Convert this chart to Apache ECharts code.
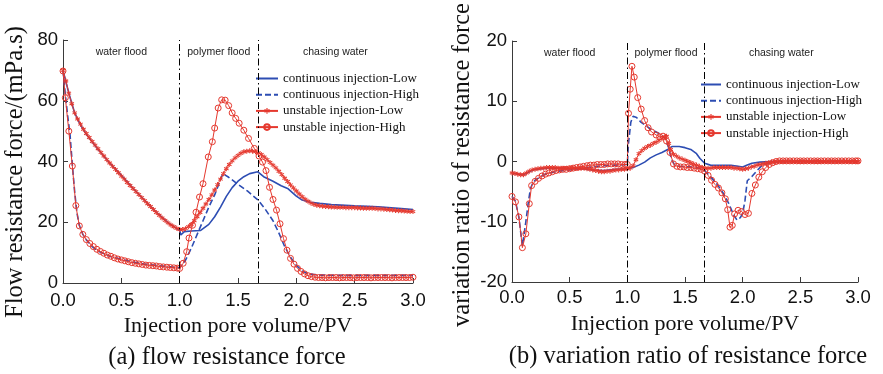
<!DOCTYPE html>
<html>
<head>
<meta charset="utf-8">
<script src="https://cdn.jsdelivr.net/npm/echarts@6/dist/echarts.min.js"></script>
<style>
  html, body { margin: 0; padding: 0; background: #fff; }
  #chart { width: 883px; height: 374px; }
</style>
</head>
<body>
<div id="chart"></div>
<script>
// ---- data: [injection pore volume (PV), value] ----
const seriesNames = [
  'continuous injection-Low',
  'continuous injection-High',
  'unstable injection-Low',
  'unstable injection-High'
];
const stageNames = ['water flood', 'polymer flood', 'chasing water'];
const stageBounds = [0, 1.0, 1.67, 3.0];
const xTicks = { min: 0, max: 3, interval: 0.5 };
const yTicksA = { min: 0, max: 80, interval: 20 };
const yTicksB = { min: -20, max: 20, interval: 10 };

// (a) flow resistance force, mPa.s
const forceContLow = [[0,70],[0.02,67],[0.05,62.5],[0.1,56],[0.15,52],[0.2,49],[0.3,44],[0.4,39.5],[0.5,35.5],[0.6,31.2],[0.7,27.2],[0.8,23.3],[0.9,19.9],[0.98,17.8],[1.0,17.3],[1.01,15.8],[1.04,16.9],[1.1,17.1],[1.18,17.3],[1.25,19.3],[1.3,21.8],[1.35,25],[1.4,28.5],[1.45,31.4],[1.5,33.5],[1.55,35],[1.6,36],[1.67,36.6],[1.72,35],[1.8,33.5],[1.87,32],[1.93,31],[2.0,28.6],[2.05,27.3],[2.12,26.6],[2.2,26.2],[2.3,25.8],[2.5,25.4],[2.7,25.1],[2.9,24.5],[3.0,24.2]];
const forceContHigh = [[0,70],[0.02,62],[0.04,55],[0.06,49],[0.08,39],[0.1,30],[0.12,23],[0.14,19],[0.17,16],[0.2,14.2],[0.25,12],[0.3,10.5],[0.4,8.8],[0.5,7.8],[0.6,6.9],[0.7,6.2],[0.8,5.8],[0.9,5.4],[1.0,5.0],[1.05,7.5],[1.1,11.5],[1.15,16],[1.2,20.5],[1.25,25],[1.3,29],[1.34,33],[1.37,36],[1.42,34.8],[1.5,32.5],[1.58,30.3],[1.67,27.4],[1.73,24.5],[1.8,20.5],[1.85,16.5],[1.9,12],[1.95,8.5],[2.0,5.8],[2.05,4],[2.1,3],[2.2,2.6],[2.4,2.5],[2.7,2.5],[3.0,2.5]];
const forceUnstLow = [[0,70],[0.025,66.5],[0.05,62.5],[0.075,59],[0.1,56],[0.125,54],[0.15,52.3],[0.175,50.6],[0.2,49.2],[0.225,47.9],[0.25,46.6],[0.275,45.4],[0.3,44.2],[0.325,43],[0.35,41.8],[0.375,40.6],[0.4,39.5],[0.425,38.4],[0.45,37.4],[0.475,36.3],[0.5,35.2],[0.525,34.2],[0.55,33.1],[0.575,32.1],[0.6,31.1],[0.625,30.1],[0.65,29.1],[0.675,28.1],[0.7,27.1],[0.725,26.1],[0.75,25.2],[0.775,24.2],[0.8,23.2],[0.825,22.3],[0.85,21.4],[0.875,20.6],[0.9,19.8],[0.925,19.1],[0.95,18.5],[0.975,18],[1.0,17.6],[1.025,17.6],[1.05,17.9],[1.075,18.5],[1.1,19.3],[1.125,20.5],[1.15,21.8],[1.175,23.2],[1.2,24.6],[1.225,26],[1.25,27.5],[1.275,29],[1.3,30.6],[1.325,32.4],[1.35,34.2],[1.375,36],[1.4,37.6],[1.425,39],[1.45,40.2],[1.475,41.2],[1.5,42],[1.525,42.7],[1.55,43.2],[1.575,43.4],[1.6,43.5],[1.625,43.4],[1.65,43.2],[1.675,42.9],[1.7,42.3],[1.725,41.5],[1.75,40.6],[1.775,39.7],[1.8,38.8],[1.825,37.9],[1.85,36.8],[1.875,35.7],[1.9,34.5],[1.925,33.4],[1.95,32.3],[1.975,31.3],[2.0,30.3],[2.025,29.3],[2.05,28.4],[2.075,27.6],[2.1,26.9],[2.125,26.3],[2.15,25.9],[2.175,25.6],[2.2,25.4],[2.225,25.3],[2.25,25.2],[2.275,25.1],[2.3,25],[2.325,25],[2.35,24.9],[2.375,24.9],[2.4,24.9],[2.425,24.8],[2.45,24.8],[2.475,24.8],[2.5,24.8],[2.525,24.7],[2.55,24.7],[2.575,24.6],[2.6,24.6],[2.625,24.6],[2.65,24.6],[2.675,24.5],[2.7,24.4],[2.725,24.4],[2.75,24.3],[2.775,24.2],[2.8,24.1],[2.825,24],[2.85,23.9],[2.875,23.8],[2.9,23.8],[2.925,23.7],[2.95,23.6],[2.975,23.5],[3.0,23.5]];
const forceUnstHigh = [[0,69.8],[0.02,61],[0.05,50],[0.08,38.5],[0.11,25.5],[0.14,18.8],[0.17,16],[0.2,14.3],[0.23,13],[0.26,12],[0.29,11.1],[0.32,10.4],[0.35,9.8],[0.38,9.2],[0.41,8.8],[0.44,8.3],[0.47,7.9],[0.5,7.6],[0.53,7.3],[0.56,7],[0.59,6.7],[0.62,6.5],[0.65,6.3],[0.68,6.1],[0.71,5.9],[0.74,5.8],[0.77,5.7],[0.8,5.6],[0.83,5.4],[0.86,5.3],[0.89,5.2],[0.92,5.1],[0.95,5.0],[0.98,4.9],[1.0,4.8],[1.03,6.5],[1.06,10.3],[1.08,14.8],[1.11,19],[1.14,23.3],[1.17,28.3],[1.2,32.7],[1.245,41.5],[1.28,46.5],[1.3,51],[1.33,57.6],[1.36,60.3],[1.39,60.2],[1.42,58.4],[1.45,56],[1.48,54.2],[1.51,52.6],[1.55,50.3],[1.59,47.6],[1.64,44.3],[1.68,41.8],[1.71,39.8],[1.74,37],[1.77,31.5],[1.8,27.5],[1.83,24],[1.86,19.5],[1.89,14.6],[1.92,10.8],[1.95,8.1],[1.98,6.2],[2.01,4.8],[2.04,3.8],[2.07,3.0],[2.1,2.4],[2.13,2.1],[2.16,1.9],[2.19,1.8],[2.22,1.8],[2.25,1.7],[2.28,1.8],[2.31,1.8],[2.34,1.8],[2.37,1.7],[2.4,1.8],[2.43,1.8],[2.46,1.8],[2.49,1.7],[2.52,1.8],[2.55,1.8],[2.58,1.8],[2.61,1.8],[2.64,1.7],[2.67,1.8],[2.7,1.8],[2.73,1.8],[2.76,1.8],[2.79,1.8],[2.82,1.7],[2.85,1.8],[2.88,1.8],[2.91,1.8],[2.94,1.8],[2.97,1.8],[3.0,1.9]];

// (b) variation ratio of resistance force
const ratioContLow = [[0,-1.9],[0.05,-2.1],[0.1,-2.2],[0.15,-1.7],[0.2,-1.3],[0.3,-1.1],[0.4,-1.1],[0.5,-1.2],[0.6,-1.2],[0.7,-1.4],[0.8,-1.5],[0.9,-1.3],[1.0,-1.2],[1.05,-1.0],[1.1,-0.6],[1.15,-0.1],[1.2,0.6],[1.25,1.1],[1.3,1.5],[1.35,2.0],[1.39,2.5],[1.45,2.5],[1.5,2.3],[1.55,2.0],[1.6,1.3],[1.63,0.5],[1.67,-0.3],[1.72,-0.6],[1.8,-0.65],[1.9,-0.65],[1.96,-0.8],[2.0,-0.9],[2.04,-0.6],[2.08,-0.3],[2.15,-0.1],[2.24,0],[2.5,0],[3.0,0]];
const ratioContHigh = [[0,-5.8],[0.03,-6.6],[0.06,-9.3],[0.09,-14],[0.12,-10],[0.14,-7],[0.16,-4.5],[0.18,-3.6],[0.2,-3.1],[0.25,-2.5],[0.3,-2.0],[0.4,-1.6],[0.5,-1.4],[0.6,-1.2],[0.7,-0.9],[0.8,-0.7],[0.9,-0.6],[1.0,-0.5],[1.01,3],[1.03,6.5],[1.05,7.5],[1.08,7.3],[1.12,6.5],[1.2,5.4],[1.28,4.6],[1.33,3.8],[1.36,2.2],[1.38,0.5],[1.41,-0.6],[1.45,-0.8],[1.55,-0.9],[1.62,-1.1],[1.67,-1.5],[1.72,-2.5],[1.78,-3.8],[1.83,-5.2],[1.88,-7],[1.92,-8.8],[1.95,-9.7],[1.98,-9.3],[2.0,-8.6],[2.02,-6.5],[2.04,-3.2],[2.08,-2.5],[2.12,-1.6],[2.17,-0.6],[2.25,-0.1],[2.4,0],[3.0,0]];
const ratioUnstLow = [[0,-1.9],[0.025,-2.0],[0.05,-2.1],[0.075,-2.2],[0.1,-2.2],[0.125,-1.9],[0.15,-1.6],[0.175,-1.4],[0.2,-1.3],[0.225,-1.2],[0.25,-1.1],[0.275,-1.1],[0.3,-1.0],[0.325,-1.0],[0.35,-1.0],[0.375,-1.0],[0.4,-1.1],[0.425,-1.1],[0.45,-1.1],[0.475,-1.1],[0.5,-1.1],[0.525,-1.1],[0.55,-1.1],[0.575,-1.1],[0.6,-1.1],[0.625,-1.1],[0.65,-1.2],[0.675,-1.3],[0.7,-1.4],[0.725,-1.5],[0.75,-1.6],[0.775,-1.7],[0.8,-1.7],[0.825,-1.6],[0.85,-1.6],[0.875,-1.5],[0.9,-1.4],[0.925,-1.4],[0.95,-1.3],[0.975,-1.3],[1.0,-1.2],[1.025,-1.1],[1.05,-0.7],[1.075,0.3],[1.1,1.3],[1.125,1.8],[1.15,2.2],[1.175,2.5],[1.2,2.7],[1.225,3.0],[1.25,3.2],[1.275,3.5],[1.3,3.8],[1.325,4.1],[1.34,4.2],[1.36,3.0],[1.375,2.0],[1.4,1.2],[1.425,0.9],[1.45,0.6],[1.475,0.4],[1.5,0.2],[1.525,0.0],[1.55,-0.2],[1.575,-0.4],[1.6,-0.6],[1.625,-0.8],[1.65,-1.0],[1.675,-1.1],[1.7,-1.1],[1.725,-1.1],[1.75,-1.0],[1.775,-1.0],[1.8,-1.0],[1.825,-1.0],[1.85,-1.0],[1.875,-1.0],[1.9,-1.0],[1.925,-1.1],[1.95,-1.1],[1.975,-1.2],[2.0,-1.3],[2.025,-1.2],[2.05,-1.1],[2.075,-0.9],[2.1,-0.8],[2.125,-0.6],[2.15,-0.5],[2.175,-0.4],[2.2,-0.3],[2.225,-0.2],[2.25,-0.1],[2.275,-0.1],[2.3,0],[2.325,0],[2.35,0],[2.375,0],[2.4,0],[2.425,0],[2.45,0],[2.475,0],[2.5,0],[2.525,0],[2.55,0],[2.575,0],[2.6,0],[2.625,0],[2.65,0],[2.675,0],[2.7,0],[2.725,0],[2.75,0],[2.775,0],[2.8,0],[2.825,0],[2.85,0],[2.875,0],[2.9,0],[2.925,0],[2.95,0],[2.975,0],[3.0,0]];
const ratioUnstHigh = [[0,-5.8],[0.03,-6.7],[0.06,-9.2],[0.09,-14.3],[0.12,-12],[0.15,-7],[0.17,-4],[0.2,-3.3],[0.23,-2.8],[0.26,-2.4],[0.29,-2.1],[0.32,-1.9],[0.35,-1.7],[0.38,-1.5],[0.41,-1.4],[0.44,-1.3],[0.47,-1.3],[0.5,-1.2],[0.53,-1.1],[0.56,-1.0],[0.59,-0.9],[0.62,-0.8],[0.65,-0.7],[0.68,-0.6],[0.71,-0.6],[0.74,-0.5],[0.77,-0.5],[0.8,-0.5],[0.83,-0.4],[0.86,-0.4],[0.89,-0.4],[0.92,-0.4],[0.95,-0.5],[0.98,-0.5],[1.0,-0.5],[1.01,8],[1.025,12],[1.04,15.8],[1.06,14],[1.09,10.6],[1.12,8.7],[1.15,6.8],[1.18,5.6],[1.21,4.9],[1.25,4.4],[1.28,4.1],[1.31,4.2],[1.34,3.4],[1.37,1.5],[1.4,-0.4],[1.43,-0.8],[1.46,-0.9],[1.49,-0.9],[1.52,-1.0],[1.55,-1.0],[1.58,-1.1],[1.61,-1.2],[1.64,-1.3],[1.67,-1.6],[1.7,-2.3],[1.73,-3.1],[1.76,-3.8],[1.79,-4.4],[1.82,-5.2],[1.85,-6.2],[1.87,-8],[1.89,-10.9],[1.91,-10.6],[1.93,-8.7],[1.96,-8.1],[1.99,-8.3],[2.02,-8.8],[2.05,-8.6],[2.08,-5.3],[2.11,-3.9],[2.14,-2.6],[2.17,-1.7],[2.2,-1.0],[2.23,-0.5],[2.26,-0.2],[2.29,0],[2.32,0.1],[2.35,0.1],[2.38,0.1],[2.41,0.1],[2.44,0.1],[2.47,0.1],[2.5,0.1],[2.53,0.1],[2.56,0.1],[2.59,0.1],[2.62,0.1],[2.65,0.1],[2.68,0.1],[2.71,0.1],[2.74,0.1],[2.77,0.1],[2.8,0.1],[2.83,0.1],[2.86,0.1],[2.89,0.1],[2.92,0.1],[2.95,0.1],[2.98,0.1],[3.0,0.1]];

// ---- styling ----
const BLUE = '#2d4db3';
const RED = '#e5382e';
const AXIS = '#3a3a3a';
const SANS = 'Liberation Sans';
const SERIF = 'Liberation Serif';
// six-armed asterisk marker
const STAR = 'path://M-1,-5L1,-5L1,5L-1,5Z M3.83,3.37L4.83,1.63L-3.83,-3.37L-4.83,-1.63Z M4.83,-1.63L3.83,-3.37L-4.83,1.63L-3.83,3.37Z';

function stageAreas() {
  return stageNames.map((n, i) => [
    { xAxis: stageBounds[i], name: n },
    { xAxis: stageBounds[i + 1] }
  ]);
}

function panelSeries(idx, sets) {
  const common = { xAxisIndex: idx, yAxisIndex: idx, animation: false };
  return [
    Object.assign({}, common, {
      name: seriesNames[0], type: 'line', data: sets[0], showSymbol: false, symbol: 'none',
      lineStyle: { color: BLUE, width: 1.6 }, itemStyle: { color: BLUE, opacity: 0 },
      markLine: {
        silent: true, symbol: 'none', animation: false,
        label: { show: false },
        lineStyle: { color: '#000', width: 1, type: [7, 3, 1.5, 3], opacity: 1 },
        data: [{ xAxis: stageBounds[1] }, { xAxis: stageBounds[2] }]
      },
      markArea: {
        silent: true, animation: false,
        itemStyle: { color: 'rgba(0,0,0,0)', opacity: 1 },
        label: { show: true, position: 'insideTop', distance: 7, color: '#222', fontFamily: SANS, fontSize: 10.5 },
        data: stageAreas()
      }
    }),
    Object.assign({}, common, {
      name: seriesNames[1], type: 'line', data: sets[1], showSymbol: false, symbol: 'none',
      lineStyle: { color: BLUE, width: 1.6, type: [6, 3] }, itemStyle: { color: BLUE, opacity: 0 }
    }),
    Object.assign({}, common, {
      name: seriesNames[2], type: 'line', data: sets[2], symbol: STAR, symbolSize: 5,
      lineStyle: { color: RED, width: 1 }, itemStyle: { color: RED }
    }),
    Object.assign({}, common, {
      name: seriesNames[3], type: 'line', data: sets[3], symbol: 'circle', symbolSize: 6,
      lineStyle: { color: RED, width: 1 },
      itemStyle: { color: 'rgba(255,255,255,0)', borderColor: RED, borderWidth: 1 }
    })
  ];
}

function xAxisCfg(idx, margin) {
  return {
    type: 'value', gridIndex: idx, min: xTicks.min, max: xTicks.max, interval: xTicks.interval,
    name: 'Injection pore volume/PV', nameLocation: 'middle', nameGap: 31,
    nameTextStyle: { fontFamily: SERIF, fontSize: 22, color: '#111' },
    axisLine: { show: true, onZero: false, lineStyle: { color: AXIS, width: 1 } },
    axisTick: { show: true, inside: true, length: 5, lineStyle: { color: AXIS } },
    axisLabel: { margin: margin, fontFamily: SANS, fontSize: 18.5, color: '#111', formatter: v => v.toFixed(1) },
    splitLine: { show: false }
  };
}

function yAxisCfg(idx, ticks) {
  return {
    type: 'value', gridIndex: idx, min: ticks.min, max: ticks.max, interval: ticks.interval,
    axisLine: { show: true, onZero: false, lineStyle: { color: AXIS, width: 1 } },
    axisTick: { show: true, inside: true, length: 5, lineStyle: { color: AXIS } },
    axisLabel: { margin: 5, fontFamily: SANS, fontSize: 18.5, color: '#111' },
    splitLine: { show: false }
  };
}

function legendCfg(left, top, w, gap) {
  return {
    orient: 'vertical', left: left, top: top, itemWidth: w, itemHeight: 7, itemGap: gap,
    textStyle: { fontFamily: SERIF, fontSize: 13, color: '#111' },
    selectedMode: false,
    data: [
      { name: seriesNames[0], itemStyle: { opacity: 0 } },
      { name: seriesNames[1], itemStyle: { opacity: 0 } },
      { name: seriesNames[2] },
      { name: seriesNames[3] }
    ]
  };
}

function titleText(text, x, y, size, rotate) {
  return {
    type: 'text', x: x, y: y, rotation: rotate ? Math.PI / 2 : 0, silent: true,
    style: { text: text, fontFamily: SERIF, fontSize: size, fill: '#111', align: 'center', verticalAlign: 'middle' }
  };
}

const chart = echarts.init(document.getElementById('chart'), null, { renderer: 'canvas' });
chart.setOption({
  animation: false,
  backgroundColor: '#fff',
  grid: [
    { left: 63, top: 40, width: 350, height: 243, containLabel: false, outerBoundsMode: 'none' },
    { left: 512, top: 41, width: 346, height: 241, containLabel: false, outerBoundsMode: 'none' }
  ],
  xAxis: [xAxisCfg(0, 8), xAxisCfg(1, 6)],
  yAxis: [yAxisCfg(0, yTicksA), yAxisCfg(1, yTicksB)],
  legend: [legendCfg(250, 67, 22, 3.2), legendCfg(695, 73, 20, 3.2)],
  graphic: [
    titleText('Flow resistance force/(mPa.s)', 16, 172, 24.5, true),
    titleText('variation ratio of resistance force', 463, 165, 24.5, true),
    titleText('(a) flow resistance force', 227, 358, 24.5, false),
    titleText('(b) variation ratio of resistance force', 688, 357, 24.5, false)
  ],
  series: [].concat(
    panelSeries(0, [forceContLow, forceContHigh, forceUnstLow, forceUnstHigh]),
    panelSeries(1, [ratioContLow, ratioContHigh, ratioUnstLow, ratioUnstHigh])
  )
});
</script>
</body>
</html>
